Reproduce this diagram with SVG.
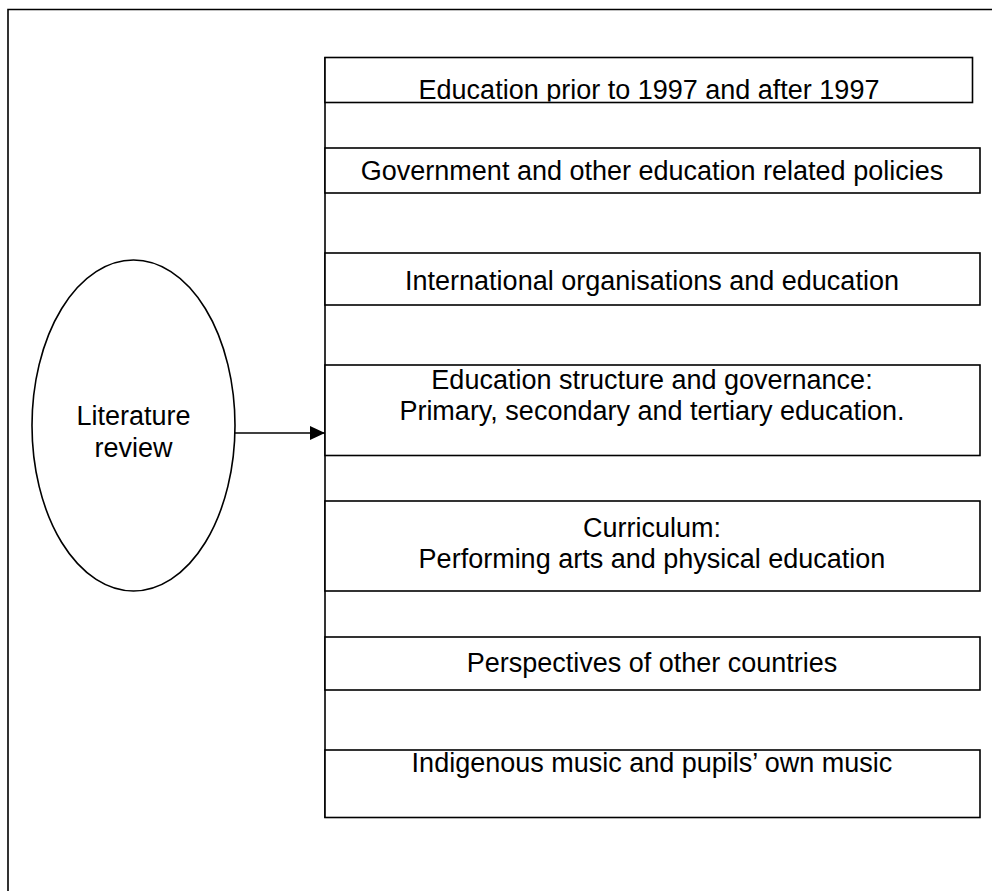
<svg xmlns="http://www.w3.org/2000/svg" width="992" height="891" viewBox="0 0 992 891">
<style>
.box{fill:#fff;stroke:#000;stroke-width:1.6}
.t{font-family:"Liberation Sans",Arial,sans-serif;font-size:27px;fill:#000;text-anchor:middle}
.ln{stroke:#000;stroke-width:1.6;fill:none}
</style>
<defs>
<marker id="ah" markerWidth="16" markerHeight="14" refX="15" refY="7" orient="auto" markerUnits="userSpaceOnUse">
<path d="M0,0 L15,7 L0,14 Z" fill="#000"/>
</marker>
<clipPath id="c1"><rect x="325" y="57" width="648" height="44.5"/></clipPath>
</defs>
<rect width="992" height="891" fill="#fff"/>
<g id="frame"><path d="M8,900 L8,9.5 L1000,9.5" class="ln" stroke-width="2"/></g>
<g id="connectors">
<line x1="325" y1="57" x2="325" y2="818" class="ln"/>
<line x1="235" y1="433" x2="325" y2="433" class="ln" marker-end="url(#ah)"/>
</g>
<g id="lit"><ellipse cx="133.5" cy="425.5" rx="101.5" ry="165.5" class="box"/>
<text class="t" x="133.5" y="425" font-size="26">Literature</text><text class="t" x="133.5" y="457" font-size="26">review</text></g>
<g id="n1"><rect x="325" y="57.5" width="647.5" height="45" class="box"/>
<text class="t" x="649" y="99" clip-path="url(#c1)">Education prior to 1997 and after 1997</text></g>
<g id="n2"><rect x="325" y="148" width="655" height="45" class="box"/>
<text class="t" x="652" y="180">Government and other education related policies</text></g>
<g id="n3"><rect x="325" y="253" width="655" height="52" class="box"/>
<text class="t" x="652" y="290">International organisations and education</text></g>
<g id="n4"><rect x="325" y="365" width="655" height="90.5" class="box"/>
<text class="t" x="652" y="389">Education structure and governance:</text><text class="t" x="652" y="420">Primary, secondary and tertiary education.</text></g>
<g id="n5"><rect x="325" y="501" width="655" height="90" class="box"/>
<text class="t" x="652" y="537">Curriculum:</text><text class="t" x="652" y="568">Performing arts and physical education</text></g>
<g id="n6"><rect x="325" y="637" width="655" height="53" class="box"/>
<text class="t" x="652" y="672">Perspectives of other countries</text></g>
<g id="n7"><rect x="325" y="750" width="655" height="67.5" class="box"/>
<text class="t" x="652" y="772">Indigenous music and pupils’ own music</text></g>
</svg>
